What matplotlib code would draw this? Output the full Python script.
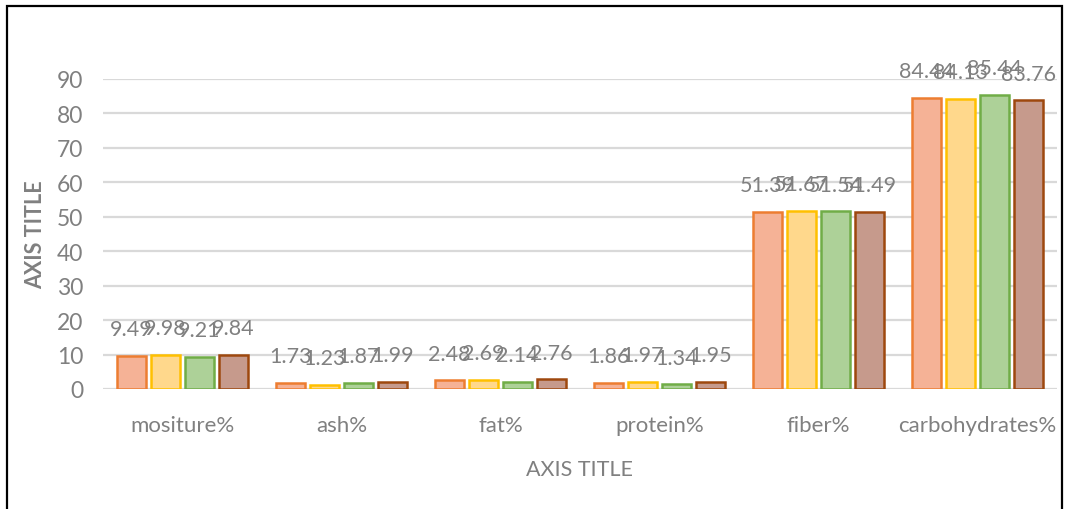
import matplotlib
matplotlib.use("Agg")
import matplotlib.pyplot as plt
import numpy as np
from matplotlib.patches import Rectangle

categories = ["mositure%", "ash%", "fat%", "protein%", "fiber%", "carbohydrates%"]
series1 = [9.49, 1.73, 2.48, 1.86, 51.39, 84.44]
series2 = [9.98, 1.23, 2.69, 1.97, 51.67, 84.13]
series3 = [9.21, 1.87, 2.14, 1.34, 51.54, 85.44]
series4 = [9.84, 1.99, 2.76, 1.95, 51.49, 83.76]
yticks = [0, 10, 20, 30, 40, 50, 60, 70, 80, 90]

series = [series1, series2, series3, series4]
fills = ["#F5B296", "#FFD88C", "#ADD198", "#C69A8C"]
edges = ["#ED7D31", "#FFC000", "#70AD47", "#9E480E"]

grey = "#808080"
FONT = ["Lato", "DejaVu Sans"]

fig = plt.figure(figsize=(10.7, 5.1), dpi=100)
ax = fig.add_axes([103/1070, 1 - 390/510, 954/1070, 310/510])

x = np.arange(len(categories))
pitch = 0.2138
width = 0.178
for i, (vals, fc, ec) in enumerate(zip(series, fills, edges)):
    off = (i - 1.5) * pitch
    bars = ax.bar(x + off, vals, width=width, color=fc, edgecolor=ec, linewidth=1.8, zorder=3)
    for xi, v in zip(x + off, vals):
        ax.annotate(f"{v:g}", (xi, v), xytext=(0, 15), textcoords="offset points",
                    ha="center", va="baseline", fontsize=15.5, color=grey,
                    family=FONT, zorder=4)

ax.set_xlim(-0.5, len(categories) - 0.5)
ax.set_ylim(0, 90)
ax.set_yticks(yticks)
ax.set_xticks(x)
ax.set_xticklabels(categories)
ax.yaxis.grid(True, color="#D9D9D9", linewidth=1.6, zorder=0)
ax.set_axisbelow(True)
for s in ax.spines.values():
    s.set_visible(False)
ax.tick_params(axis="both", length=0, colors=grey)
ax.tick_params(axis="y", pad=14, labelsize=16.5)
ax.tick_params(axis="x", pad=19, labelsize=16)
for lab in ax.get_xticklabels() + ax.get_yticklabels():
    lab.set_family(FONT)

ax.set_ylabel("AXIS TITLE", fontsize=15.5, color=grey, family=FONT, fontweight="bold")
ax.yaxis.set_label_coords((36 - 103) / 954, 0.5)
ax.yaxis.label.set_va("center")
ax.set_xlabel("AXIS TITLE", fontsize=15.5, color=grey, family=FONT)
ax.xaxis.set_label_coords(0.5, (390 - 460) / 310)

fig.patches.append(Rectangle((7/1070, -0.02), (1062 - 7)/1070, 1.02 - 7/510,
                             transform=fig.transFigure, fill=False,
                             edgecolor="black", linewidth=1.6))

fig.savefig("out.png", dpi=100)
